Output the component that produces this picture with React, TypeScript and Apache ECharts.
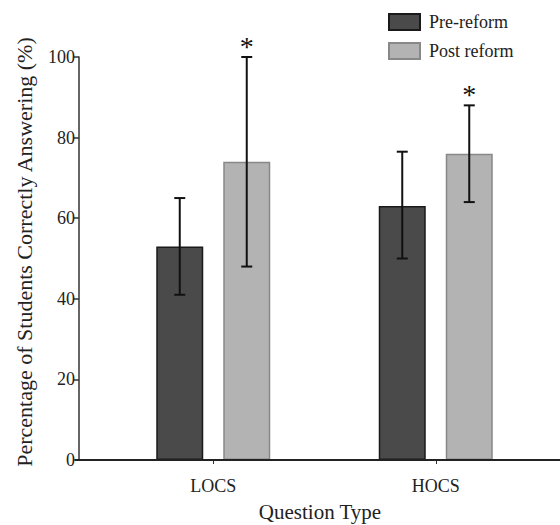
import React, { useEffect, useRef } from "react";
import * as echarts from "echarts";

const categories = ["LOCS", "HOCS"];
const seriesNames = ["Pre-reform", "Post reform"];
const preValues = [53, 63];
const postValues = [74, 76];
const preLow = [41, 50];
const preHigh = [65, 76.5];
const postLow = [48, 64];
const postHigh = [100, 88];
const preSignificant = [false, false];
const postSignificant = [true, true];
const yMin = 0;
const yMax = 100;
const yInterval = 20;
const xTitle = "Question Type";
const yTitle = "Percentage of Students Correctly Answering (%)";

const FONT = "'Liberation Serif', 'Times New Roman', serif";
const BAR_W = 47;
const BAR_GAP = 20;

function errorSeries(low: number[], high: number[], sig: boolean[], dir: number) {
  return {
    type: "custom",
    z: 10,
    clip: false,
    silent: true,
    data: categories.map((_, i) => [i, low[i], high[i], sig[i] ? 1 : 0]),
    encode: { x: 0, y: [1, 2] },
    renderItem: (params: any, api: any) => {
      const idx = api.value(0);
      const lo = api.coord([idx, api.value(1)]);
      const hi = api.coord([idx, api.value(2)]);
      const x = lo[0] + dir * (BAR_W / 2 + BAR_GAP / 2);
      const cap = 5.5;
      const st = { stroke: "#111", lineWidth: 2 };
      const children: any[] = [
        { type: "line", shape: { x1: x, y1: lo[1], x2: x, y2: hi[1] }, style: st },
        { type: "line", shape: { x1: x - cap, y1: lo[1], x2: x + cap, y2: lo[1] }, style: st },
        { type: "line", shape: { x1: x - cap, y1: hi[1], x2: x + cap, y2: hi[1] }, style: st },
      ];
      if (api.value(3) === 1) {
        children.push({
          type: "text",
          x: x,
          y: hi[1] - 11,
          style: {
            text: "*",
            fontSize: 28,
            fontFamily: FONT,
            fill: "#111",
            align: "center",
            verticalAlign: "middle",
          },
        });
      }
      return { type: "group", children };
    },
  };
}

export default function App() {
  const ref = useRef<HTMLDivElement>(null);
  useEffect(() => {
    if (!ref.current) return;
    const chart = echarts.init(ref.current, undefined, { renderer: "svg" });
    chart.setOption({
      animation: false,
      backgroundColor: "#ffffff",
      textStyle: { fontFamily: FONT, color: "#222" },
      grid: { left: 102, right: 13, top: 57, bottom: 65, containLabel: false },
      legend: {
        orient: "vertical",
        left: 388,
        top: 13,
        itemWidth: 31,
        itemHeight: 16,
        itemGap: 11,
        icon: "rect",
        padding: 0,
        data: seriesNames,
        textStyle: { fontSize: 18, fontFamily: FONT, color: "#222", padding: [0, 0, 0, 4] },
      },
      xAxis: {
        type: "category",
        data: categories,
        axisLine: { show: false },
        axisTick: { show: true, alignWithLabel: true, length: 4, lineStyle: { color: "#333", width: 1 } },
        axisLabel: { fontSize: 18, fontFamily: FONT, color: "#222", margin: 17 },
        splitLine: { show: false },
      },
      yAxis: {
        type: "value",
        min: yMin,
        max: yMax,
        interval: yInterval,
        offset: 23,
        axisLine: { show: true, lineStyle: { color: "#333", width: 1.5 } },
        axisTick: { show: true, length: 5, lineStyle: { color: "#333", width: 1.5 } },
        axisLabel: { fontSize: 18, fontFamily: FONT, color: "#222", margin: 4 },
        splitLine: { show: false },
      },
      graphic: [
        {
          type: "line",
          z: 20,
          shape: { x1: 75, y1: 460, x2: 560, y2: 460 },
          style: { stroke: "#222", lineWidth: 2 },
        },
        {
          type: "text",
          x: 24,
          y: 252,
          rotation: Math.PI / 2,
          style: {
            text: yTitle,
            fontSize: 22,
            fontFamily: FONT,
            fill: "#222",
            align: "center",
            verticalAlign: "middle",
          },
        },
        {
          type: "text",
          x: 320,
          y: 512,
          style: {
            text: xTitle,
            fontSize: 21,
            fontFamily: FONT,
            fill: "#222",
            align: "center",
            verticalAlign: "middle",
          },
        },
      ],
      series: [
        {
          name: seriesNames[0],
          type: "bar",
          data: preValues,
          barWidth: BAR_W,
          barGap: `${(BAR_GAP / BAR_W) * 100}%`,
          itemStyle: { color: "#4a4a4a", borderColor: "#1a1a1a", borderWidth: 1.5 },
        },
        {
          name: seriesNames[1],
          type: "bar",
          data: postValues,
          barWidth: BAR_W,
          barGap: `${(BAR_GAP / BAR_W) * 100}%`,
          itemStyle: { color: "#b3b3b3", borderColor: "#888888", borderWidth: 1.5 },
        },
        errorSeries(preLow, preHigh, preSignificant, -1),
        errorSeries(postLow, postHigh, postSignificant, 1),
      ],
    });
    return () => chart.dispose();
  }, []);
  return (
    <div
      ref={ref}
      style={{ position: "fixed", left: 0, top: 0, width: 560, height: 525, background: "#fff" }}
    />
  );
}
